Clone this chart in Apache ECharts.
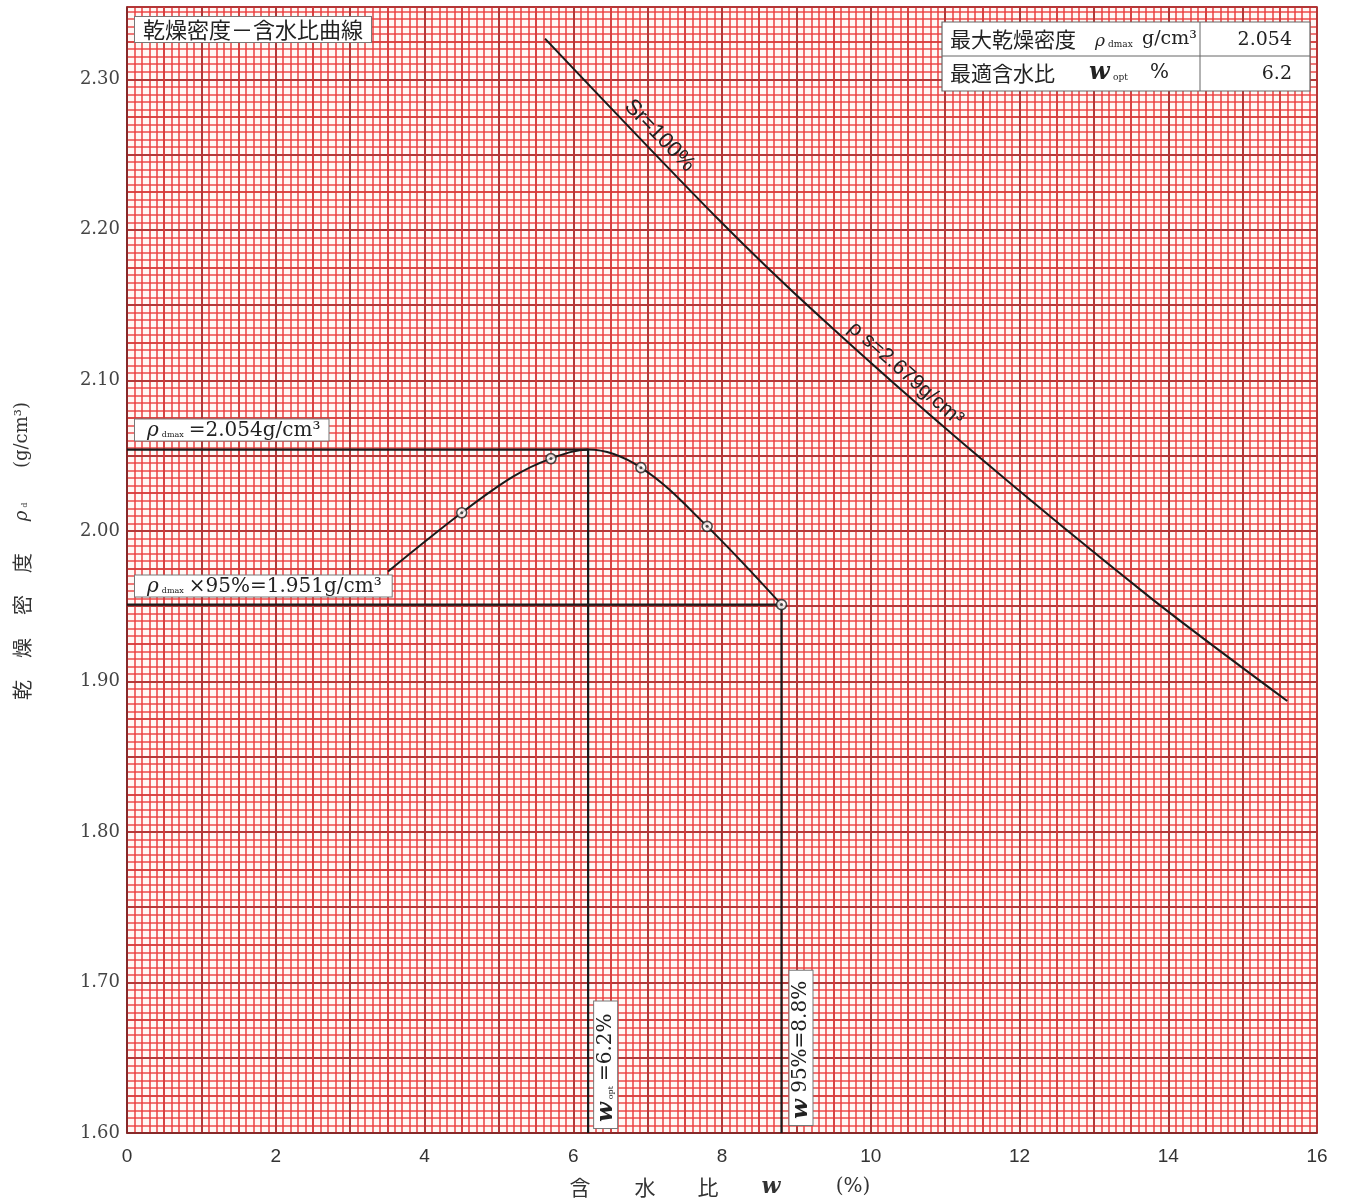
<!DOCTYPE html>
<html><head><meta charset="utf-8">
<script src="https://cdn.jsdelivr.net/npm/echarts@6/dist/echarts.min.js"></script>
<style>html,body{margin:0;padding:0;background:#fff}#c{width:1345px;height:1201px}</style>
</head><body><div id="c"></div>
<script>
// ---- data ----
const xTickLabels = [0, 2, 4, 6, 8, 10, 12, 14, 16];
const yTickLabels = [1.60, 1.70, 1.80, 1.90, 2.00, 2.10, 2.20, 2.30];
const testW   = [4.50, 5.70, 6.91, 7.80, 8.80];
const testRho = [2.012, 2.048, 2.042, 2.003, 1.951];
const curveW   = [3.51, 4.50, 5.19, 5.70, 6.20, 6.91, 7.80, 8.80];
const curveRho = [1.973, 2.012, 2.036, 2.048, 2.054, 2.042, 2.003, 1.951];
const srW   = [5.62, 7.93, 9.32, 11.29, 13.75, 15.60];
const srRho = [2.327, 2.208, 2.142, 2.056, 1.956, 1.887];
const rhoDmax = 2.054, wOpt = 6.2, rho95 = 1.951, w95 = 8.8;

const XMIN = 0, XMAX = 16, YMIN = 1.6, YMAX = 2.348;
const chart = echarts.init(document.getElementById('c'), null, {renderer: 'canvas'});

function gx(interval, color, width, z) {
  return {type: 'value', min: XMIN, max: XMAX, interval, position: 'bottom', z,
    axisLine: {show: false}, axisTick: {show: false}, axisLabel: {show: false},
    splitLine: {show: true, lineStyle: {color, width}}};
}
function gy(interval, color, width, z) {
  return {type: 'value', min: YMIN, max: YMAX, interval, position: 'left', z,
    axisLine: {show: false}, axisTick: {show: false}, axisLabel: {show: false},
    splitLine: {show: true, lineStyle: {color, width}}};
}
const thin = 'rgba(236,62,62,0.92)', mid = '#d23a3a', thick = '#a83434';
const pairs = (a, b) => a.map((v, i) => [v, b[i]]);
const ser = {xAxisIndex: 3, yAxisIndex: 3};

chart.setOption({
  animation: false,
  backgroundColor: '#ffffff',
  grid: {left: 127, right: 28, top: 7, bottom: 68, show: true, backgroundColor: '#fff8f5', borderColor: '#8a2a2a', borderWidth: 1.5},
  xAxis: [
    gx(0.1, thin, 1.6, 0), gx(0.5, mid, 1.6, 1), gx(1, thick, 1.5, 1),
    {type: 'value', min: XMIN, max: XMAX, interval: 2, position: 'bottom', z: 1,
      splitLine: {show: false}, axisTick: {show: false},
      axisLine: {show: true, lineStyle: {color: '#7a2626', width: 1.5}},
      axisLabel: {show: true, customValues: xTickLabels, margin: 14, fontFamily: 'Liberation Sans', fontSize: 19, color: '#333'}}
  ],
  yAxis: [
    gy(0.005, thin, 1.6, 0), gy(0.025, mid, 1.6, 1), gy(0.05, thick, 1.5, 1),
    {type: 'value', min: YMIN, max: YMAX, interval: 0.1, position: 'left', z: 1,
      splitLine: {show: false}, axisTick: {show: false},
      axisLine: {show: true, lineStyle: {color: '#7a2626', width: 1.5}},
      axisLabel: {show: true, customValues: yTickLabels, margin: 7, fontFamily: 'DejaVu Serif', fontSize: 18, color: '#444',
        formatter: v => Number(v).toFixed(2)}}
  ],
  series: [
    Object.assign({type: 'line', data: pairs(srW, srRho), smooth: 0.3, showSymbol: false,
      lineStyle: {color: '#1a1a1a', width: 2}}, ser),
    Object.assign({type: 'line', data: pairs(curveW, curveRho), smooth: 0.35, showSymbol: false,
      lineStyle: {color: '#1a1a1a', width: 2}}, ser),
    Object.assign({type: 'line', data: [[0, rhoDmax], [wOpt, rhoDmax], [wOpt, YMIN]], showSymbol: false,
      lineStyle: {color: '#1a1a1a', width: 2.2}}, ser),
    Object.assign({type: 'line', data: [[0, rho95], [w95, rho95], [w95, YMIN]], showSymbol: false,
      lineStyle: {color: '#1a1a1a', width: 2.2}}, ser),
    Object.assign({type: 'scatter', data: pairs(testW, testRho), symbol: 'circle', symbolSize: 10, z: 5,
      itemStyle: {color: '#ffffff', borderColor: '#222', borderWidth: 1.6}}, ser),
    Object.assign({type: 'scatter', data: pairs(testW, testRho), symbol: 'circle', symbolSize: 3, z: 6,
      itemStyle: {color: '#222'}}, ser)
  ]
});

const px = (x, y) => chart.convertToPixel({xAxisIndex: 3, yAxisIndex: 3}, [x, y]);
const CJK = '"Noto Sans CJK JP"';
const SERIF = '"DejaVu Serif"';
const Z = 100;
const boxStyle = {backgroundColor: '#ffffff', borderColor: '#777', borderWidth: 1};

const g = [];
// title box
g.push({type: 'text', x: 135, y: 17, z: Z, style: Object.assign({
  text: '乾燥密度－含水比曲線', font: '22px ' + CJK, fill: '#222', align: 'left', verticalAlign: 'top',
  padding: [2, 8, 1, 8]}, boxStyle)});

// table top right
g.push({type: 'rect', z: Z, shape: {x: 942, y: 22, width: 368, height: 69}, style: {fill: '#fff', stroke: '#666', lineWidth: 1.2}});
g.push({type: 'line', z: Z, shape: {x1: 942, y1: 56, x2: 1310, y2: 56}, style: {stroke: '#666', lineWidth: 1}});
g.push({type: 'line', z: Z, shape: {x1: 1200, y1: 22, x2: 1200, y2: 91}, style: {stroke: '#666', lineWidth: 1}});
const tt = (text, x, y, font, align) => ({type: 'text', x, y, z: Z + 1,
  style: {text, font, fill: '#222', align: align || 'left', verticalAlign: 'middle'}});
g.push(tt('最大乾燥密度', 950, 39, '21px ' + CJK));
g.push(tt('ρ', 1095, 42, 'italic 17px ' + SERIF));
g.push(tt('dmax', 1108, 45, '9px ' + SERIF));
g.push(tt('g/cm³', 1142, 39, '19px ' + SERIF));
g.push(tt('2.054', 1292, 40, '19px ' + SERIF, 'right'));
g.push(tt('最適含水比', 950, 73, '21px ' + CJK));
g.push(tt('w', 1089, 73, 'italic bold 24px ' + SERIF));
g.push(tt('opt', 1113, 78, '9px ' + SERIF));
g.push(tt('%', 1150, 73, '20px ' + SERIF));
g.push(tt('6.2', 1292, 74, '19px ' + SERIF, 'right'));

// annotation boxes along the reference lines
const richBase = {
  r: {font: 'italic 20px ' + SERIF, fill: '#222'},
  s: {font: '8px ' + SERIF, fill: '#222', verticalAlign: 'bottom', padding: [0, 5, 2, 3]},
  n: {font: '20px ' + SERIF, fill: '#222'},
  w: {font: 'italic bold 23px ' + SERIF, fill: '#222'}
};
const pD = px(0, rhoDmax);
g.push({type: 'text', x: pD[0] + 8, y: pD[1] - 9, z: Z, style: Object.assign({
  text: '{r|ρ}{s|dmax}{n|=2.054g/cm³}', rich: richBase, align: 'left', verticalAlign: 'bottom',
  padding: [1, 8, 0, 12]}, boxStyle)});
const p95 = px(0, rho95);
g.push({type: 'text', x: p95[0] + 8, y: p95[1] - 8, z: Z, style: Object.assign({
  text: '{r|ρ}{s|dmax}{n|×95%=1.951g/cm³}', rich: richBase, align: 'left', verticalAlign: 'bottom',
  padding: [1, 10, 0, 12]}, boxStyle)});
const pO = px(wOpt, YMIN);
g.push({type: 'text', x: pO[0] + 6, y: pO[1] - 5, rotation: Math.PI / 2, z: Z, style: Object.assign({
  text: '{w|w}{s|opt}{n|=6.2%}', rich: richBase, align: 'left', verticalAlign: 'top',
  padding: [0, 12, 0, 6]}, boxStyle)});
const p9 = px(w95, YMIN);
g.push({type: 'text', x: p9[0] + 8, y: p9[1] - 8, rotation: Math.PI / 2, z: Z, style: Object.assign({
  text: '{w|w}{n| 95%=8.8%}', rich: richBase, align: 'left', verticalAlign: 'top',
  padding: [0, 10, 0, 6]}, boxStyle)});

// line labels
const pSr = px(7.16, 2.2625);
g.push({type: 'text', x: pSr[0], y: pSr[1], rotation: -46 * Math.PI / 180, z: Z, style: {
  text: 'Sr=100%', font: '22px "Liberation Sans"', fill: '#222', align: 'center', verticalAlign: 'middle'}});
const pRs = px(10.47, 2.1045);
g.push({type: 'text', x: pRs[0], y: pRs[1], rotation: -41.5 * Math.PI / 180, z: Z, style: {
  text: 'ρ s=2.679g/cm³', font: '21px "Liberation Sans"', fill: '#222', align: 'center', verticalAlign: 'middle'}});

// x axis name
const xn = (text, x, font) => ({type: 'text', x, y: 1187, z: Z, style: {text, font, fill: '#333', align: 'center', verticalAlign: 'middle'}});
g.push(xn('含', 580, '21px ' + CJK));
g.push(xn('水', 645, '21px ' + CJK));
g.push(xn('比', 708, '21px ' + CJK));
g.push(xn('w', 771, 'italic bold 22px ' + SERIF));
g.push(xn('(%)', 853, '20px ' + SERIF));
// y axis name (rotated)
const yn = (text, y, font, rich) => ({type: 'text', x: 22, y, rotation: Math.PI / 2, z: Z,
  style: {text, font, rich, fill: '#333', align: 'center', verticalAlign: 'middle'}});
g.push(yn('乾', 690, '20px ' + CJK));
g.push(yn('燥', 648, '20px ' + CJK));
g.push(yn('密', 605, '20px ' + CJK));
g.push(yn('度', 563, '20px ' + CJK));
g.push(yn('{a|ρ}{b|d}', 512, '18px ' + SERIF, {a: {font: 'italic 18px ' + SERIF, fill: '#333'}, b: {font: '8px ' + SERIF, fill: '#333', verticalAlign: 'bottom', padding: [0, 0, 2, 3]}}));
g.push(yn('(g/cm³)', 435, '18px ' + SERIF));

chart.setOption({graphic: g});
</script>
</body></html>
